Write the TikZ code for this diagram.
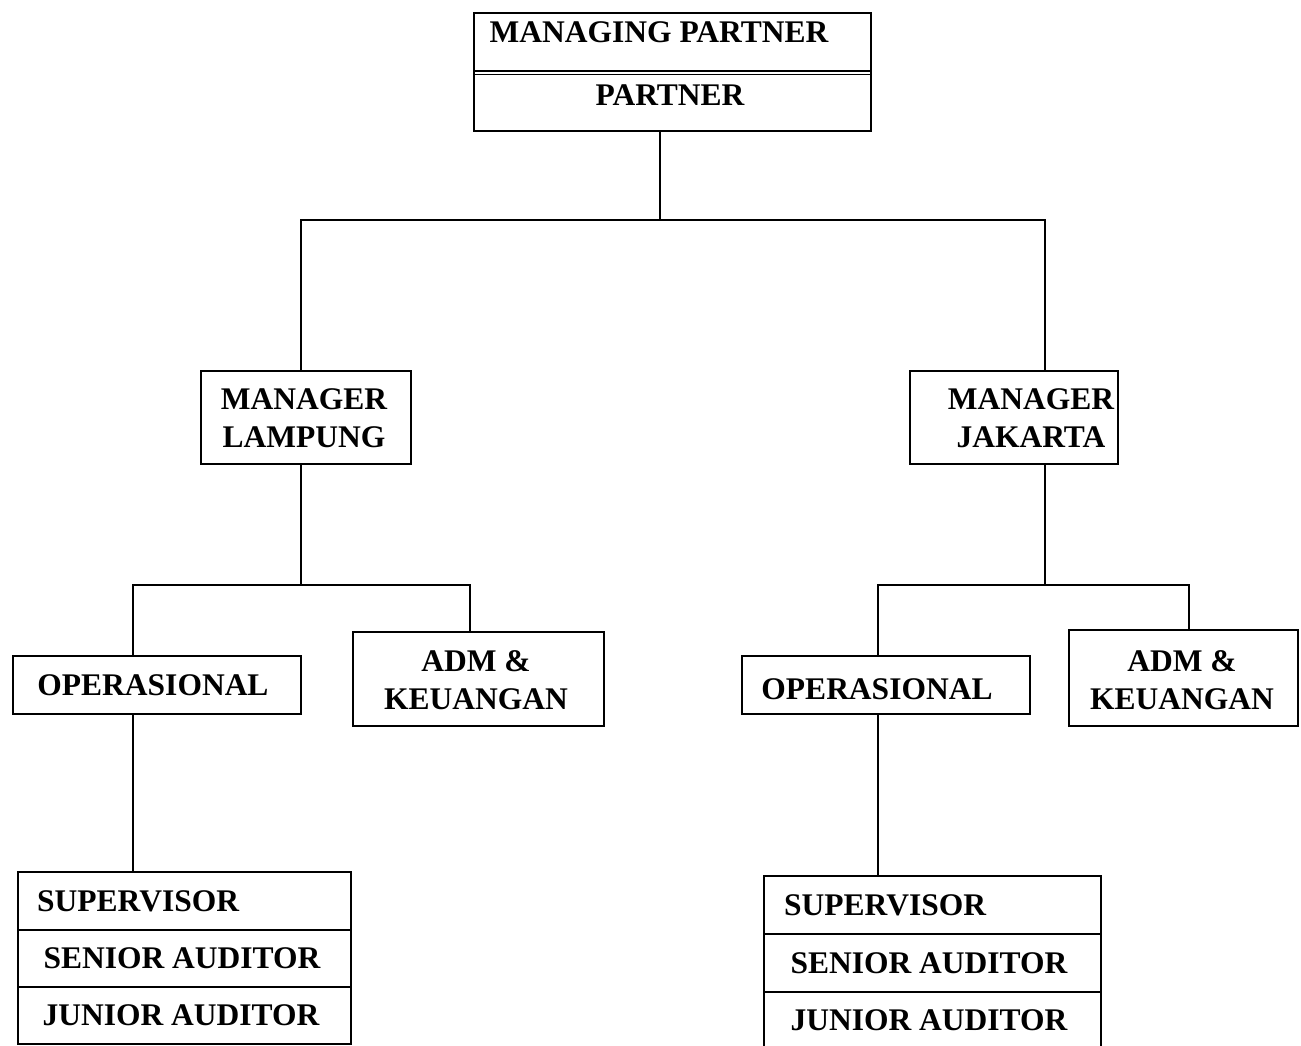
\documentclass[tikz,border=0pt]{standalone}
\usepackage{fontspec}
\setmainfont{Liberation Serif}
\begin{document}
\begin{tikzpicture}[x=1pt,y=-1pt,
  box/.style={draw, line width=1.8pt, inner sep=0pt, anchor=north west},
  lbl/.style={font=\fontsize{31.5}{39}\selectfont\bfseries, inner sep=0pt, anchor=base},
  lbll/.style={lbl, anchor=base west},
  lbl2/.style={font=\fontsize{31.5}{38}\selectfont\bfseries, inner sep=0pt, align=center},
  conn/.style={line width=1.8pt}]
\useasboundingbox (0,0) rectangle (1301,1045);
% boxes
\node[box, minimum width=397pt, minimum height=118pt] (mp) at (473,12) {};
\draw[line width=1.1pt] (mp.west |- 0,71) -- (mp.east |- 0,71);
\draw[line width=1.1pt] (mp.west |- 0,74.5) -- (mp.east |- 0,74.5);
\node[box, minimum width=210pt, minimum height=93pt] (ml) at (200,370) {};
\node[box, minimum width=208pt, minimum height=93pt] (mj) at (909,370) {};
\node[box, minimum width=288pt, minimum height=58pt] (opl) at (12,655) {};
\node[box, minimum width=251pt, minimum height=94pt] (adml) at (352,631) {};
\node[box, minimum width=288pt, minimum height=58pt] (opj) at (741,655) {};
\node[box, minimum width=229pt, minimum height=96pt] (admj) at (1068,629) {};
\node[box, minimum width=333pt, minimum height=58pt] (supl) at (17,871) {};
\node[box, minimum width=333pt, minimum height=57pt] (senl) at (17,929) {};
\node[box, minimum width=333pt, minimum height=57pt] (junl) at (17,986) {};
\node[box, minimum width=337pt, minimum height=58pt] (supj) at (763,875) {};
\node[box, minimum width=337pt, minimum height=58pt] (senj) at (763,933) {};
\node[box, minimum width=337pt, minimum height=58pt] (junj) at (763,991) {};
% texts
\node[lbl] (tmp) at (659,42.5) {MANAGING PARTNER};
\node[lbl] (tp) at (670,105.5) {PARTNER};
\node[lbl2] (tml) at (304,418.5) {MANAGER\\LAMPUNG};
\node[lbl2] (tmj) at (1031,418.5) {MANAGER\\JAKARTA};
\node[lbl] (topl) at (153,695.5) {OPERASIONAL};
\node[lbl] (topj) at (877,699) {OPERASIONAL};
\node[lbl2] (tadml) at (476,680) {ADM \&\\KEUANGAN};
\node[lbl2] (tadmj) at (1182,680) {ADM \&\\KEUANGAN};
\node[lbll] (tsupl) at (37,911) {SUPERVISOR};
\node[lbl] (tsenl) at (182,968.5) {SENIOR AUDITOR};
\node[lbl] (tjunl) at (181,1025.5) {JUNIOR AUDITOR};
\node[lbll] (tsupj) at (784,915) {SUPERVISOR};
\node[lbl] (tsenj) at (929,973.5) {SENIOR AUDITOR};
\node[lbl] (tjunj) at (929,1030.5) {JUNIOR AUDITOR};
% connectors
\coordinate (busTop) at (660,220);
\coordinate (busL) at (301,220);
\coordinate (busR) at (1045,220);
\draw[conn] (busTop |- mp.south) -- (busTop);
\draw[conn] (busL |- ml.north) -- (busL) -- (busR) -- (busR |- mj.north);
\coordinate (lamL) at (133,585);
\coordinate (lamR) at (470,585);
\draw[conn] (busL |- ml.south) -- (busL |- lamL);
\draw[conn] (lamL |- opl.north) -- (lamL) -- (lamR) -- (lamR |- adml.north);
\draw[conn] (lamL |- opl.south) -- (lamL |- supl.north);
\coordinate (jakL) at (878,585);
\coordinate (jakR) at (1189,585);
\draw[conn] (busR |- mj.south) -- (busR |- jakL);
\draw[conn] (jakL |- opj.north) -- (jakL) -- (jakR) -- (jakR |- admj.north);
\draw[conn] (jakL |- opj.south) -- (jakL |- supj.north);
\end{tikzpicture}
\end{document}
